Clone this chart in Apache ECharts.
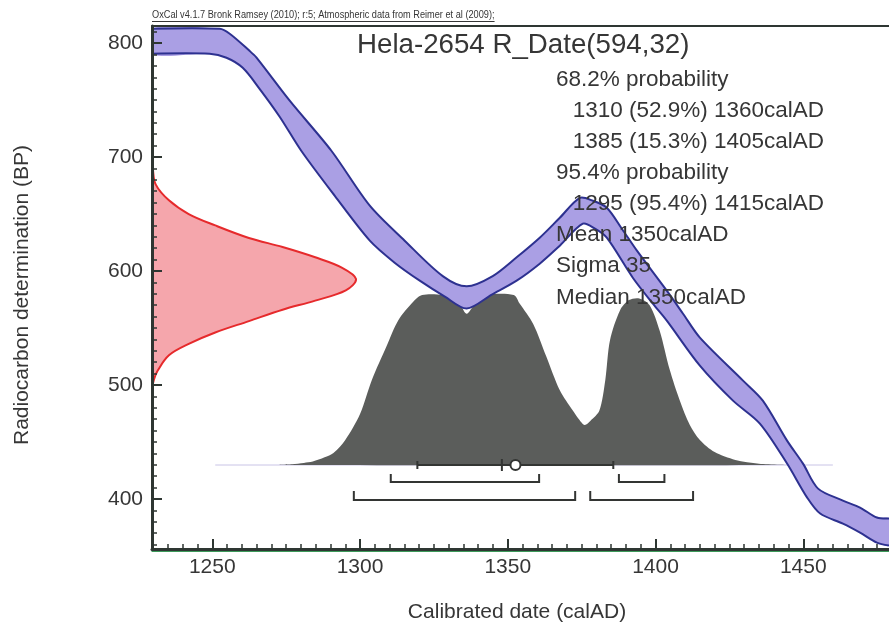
<!DOCTYPE html>
<html><head><meta charset="utf-8">
<script src="https://cdn.jsdelivr.net/npm/echarts@6/dist/echarts.min.js"></script>
<style>html,body{margin:0;padding:0;background:#fff}#c{width:889px;height:627px}</style>
</head><body><div id="c"></div>
<script>
// ---------- data ----------
const xTickLabels = [1250, 1300, 1350, 1400, 1450];
const yTickLabels = [400, 500, 600, 700, 800];

// calibration curve band edges [calAD, BP]
const curveUpper = [[1229,812.5],[1252.5,812.5],[1255.9,808.2],[1262.6,793.2],[1264.9,787.4],[1276.2,749.4],[1290.3,705.5],[1303.3,657.3],[1315.1,626.6],[1328.0,595.5],[1336.1,586.5],[1344.9,595.5],[1353.0,612.0],[1360.8,629.2],[1367.6,646.7],[1374.4,664.2],[1378.8,661.6],[1383.5,655.5],[1388.6,637.1],[1393.7,617.8],[1403.8,582.7],[1409.3,562.5],[1415.0,541.5],[1429.6,503.8],[1436.3,486.2],[1444.5,451.1],[1449.9,430.9],[1455.0,409.0],[1463.4,398.5],[1469.2,392.4],[1474.9,383.6],[1479,382.7]];
const curveLower = [[1229,790.6],[1249.1,790.6],[1254.8,787.1],[1260.3,778.3],[1266.0,759.9],[1272.8,735.4],[1280.1,705.5],[1291.4,666.1],[1303.3,626.6],[1311.7,607.3],[1320.2,591.5],[1328.7,577.5],[1336.1,567.0],[1344.6,579.3],[1353.0,591.5],[1360.8,606.4],[1367.6,622.2],[1375.4,641.5],[1379.5,637.1],[1383.5,629.2],[1392.3,594.1],[1399.1,571.3],[1403.8,556.4],[1415.0,516.9],[1426.2,486.2],[1435.3,466.1],[1444.5,431.0],[1451.3,401.1],[1455.7,387.1],[1463.4,378.3],[1469.2,370.4],[1474.9,361.6],[1479,359.0]];

// radiocarbon date distribution (BP vs relative probability)
const redBP      = [700, 690, 676, 662, 650, 640, 629, 621, 612, 603, 593, 583, 574, 566, 556, 546, 536, 526, 512, 505, 497];
const redDensity = [0, 0.004, 0.018, 0.083, 0.18, 0.31, 0.475, 0.64, 0.80, 0.93, 1.0, 0.95, 0.80, 0.64, 0.475, 0.31, 0.18, 0.083, 0.026, 0.01, 0];

// calibrated distribution (calAD vs relative probability)
const greyYears   = [1272, 1277, 1281, 1284, 1288, 1291, 1295, 1300, 1304, 1309, 1313, 1318, 1321, 1328, 1333, 1336, 1339, 1343, 1352, 1354, 1358.6, 1363, 1367.6, 1372, 1374, 1376, 1378, 1381, 1383, 1384.6, 1388, 1391, 1394.5, 1398, 1401.4, 1404.8, 1408.2, 1411.6, 1415, 1420, 1427, 1435, 1445];
const greyDensity = [0, 0.005, 0.012, 0.02, 0.045, 0.07, 0.147, 0.30, 0.50, 0.70, 0.853, 0.96, 1.0, 1.0, 0.97, 0.89, 0.95, 1.0, 1.0, 0.95, 0.83, 0.64, 0.44, 0.32, 0.27, 0.235, 0.26, 0.32, 0.5, 0.735, 0.91, 0.97, 0.98, 0.94, 0.79, 0.56, 0.38, 0.235, 0.147, 0.076, 0.03, 0.008, 0];

const baselineRange = [1251, 1460];
const range68 = [[1310.4, 1360.6], [1387.6, 1403.0]];
const range95 = [[1297.9, 1372.8], [1377.9, 1412.7]];
const sigmaRange = [1319.4, 1385.7];
const meanMark = 1348;
const medianMark = 1352.6;

const headerText = 'OxCal v4.1.7 Bronk Ramsey (2010); r:5; Atmospheric data from Reimer et al (2009);';
const titleText = 'Hela-2654 R_Date(594,32)';
const infoLines = [
  ['68.2% probability', 0],
  ['1310 (52.9%) 1360calAD', 1],
  ['1385 (15.3%) 1405calAD', 1],
  ['95.4% probability', 0],
  ['1295 (95.4%) 1415calAD', 1],
  ['Mean 1350calAD', 0],
  ['Sigma 35', 0],
  ['Median 1350calAD', 0]
];
const xTitle = 'Calibrated date (calAD)';
const yTitle = 'Radiocarbon determination (BP)';

// ---------- layout / style ----------
const X_MIN = 1229.6, X_MAX = 1479, Y_MIN = 356, Y_MAX = 815;
const GRID = {left: 152, right: 0, top: 26, bottom: 78};
const RED_MAX = 737 / 204;
const G_MIN = -84 / 170, G_MAX = 439 / 170;
const FONT = '"Liberation Sans", Arial, sans-serif';
const axisColor = '#2e3632';
const textColor = '#363636';

const xMinor = [];
for (let v = 1230; v <= 1479; v += 5) if (v % 50 !== 0) xMinor.push(v);
const yMinor = [];
for (let v = 360; v <= 815; v += 10) if (v % 100 !== 0) yMinor.push(v);

function clipOf(params) {
  const c = params.coordSys;
  return {type: 'rect', shape: {x: c.x, y: c.y, width: c.width, height: c.height}};
}

const chart = echarts.init(document.getElementById('c'));

const HEADER_FS = 10, HEADER_SX = 0.92;
const measureCtx = document.createElement('canvas').getContext('2d');
measureCtx.font = HEADER_FS + 'px ' + FONT;
const headerW = measureCtx.measureText(headerText).width * HEADER_SX;

const graphics = [
  {type: 'text', x: 152, y: 15, scaleX: HEADER_SX, z: 100, style: {text: headerText, font: HEADER_FS + 'px ' + FONT, fill: textColor, textVerticalAlign: 'middle'}},
  {type: 'line', z: 100, shape: {x1: 152, y1: 21.5, x2: 152 + headerW, y2: 21.5}, style: {stroke: textColor, lineWidth: 1}},
  {type: 'text', x: 357, y: 45, z: 100, style: {text: titleText, font: '27.7px ' + FONT, fill: textColor, textVerticalAlign: 'middle'}},
  {type: 'text', x: 517, y: 612, z: 100, style: {text: xTitle, font: '21px ' + FONT, fill: textColor, textAlign: 'center', textVerticalAlign: 'middle'}},
  {type: 'text', x: 22, y: 295, rotation: Math.PI / 2, z: 100, style: {text: yTitle, font: '21px ' + FONT, fill: textColor, textAlign: 'center', textVerticalAlign: 'middle'}}
];
infoLines.forEach((l, i) => {
  graphics.push({type: 'text', x: l[1] ? 572.7 : 556, y: 79.3 + i * 31.15, z: 100,
    style: {text: l[0], font: '22.5px ' + FONT, fill: textColor, textVerticalAlign: 'middle'}});
});

const plain = v => String(v);

const option = {
  animation: false,
  grid: GRID,
  xAxis: [
    {type: 'value', min: X_MIN, max: X_MAX, position: 'bottom', z: 10,
      axisLine: {show: true, onZero: false, lineStyle: {color: axisColor, width: 3}},
      axisTick: {show: true, inside: true, length: 10, customValues: xTickLabels, lineStyle: {color: axisColor, width: 2}},
      axisLabel: {show: true, customValues: xTickLabels, formatter: plain, margin: 8, fontSize: 21, color: textColor, fontFamily: FONT},
      splitLine: {show: false}},
    {type: 'value', min: X_MIN, max: X_MAX, position: 'bottom', z: 10,
      axisLine: {show: false, onZero: false},
      axisTick: {show: true, inside: true, length: 5, customValues: xMinor, lineStyle: {color: axisColor, width: 1.5}},
      axisLabel: {show: false}, splitLine: {show: false}},
    {type: 'value', min: 0, max: RED_MAX, show: false, axisLine: {onZero: false}},
    {type: 'value', min: X_MIN, max: X_MAX, position: 'top', z: 10,
      axisLine: {show: true, onZero: false, lineStyle: {color: axisColor, width: 2}},
      axisTick: {show: false}, axisLabel: {show: false}, splitLine: {show: false}},
    {type: 'value', min: X_MIN, max: X_MAX, position: 'bottom', offset: 2, z: 9,
      axisLine: {show: true, onZero: false, lineStyle: {color: '#3c9a5a', width: 1.2}},
      axisTick: {show: false}, axisLabel: {show: false}, splitLine: {show: false}}
  ],
  yAxis: [
    {type: 'value', min: Y_MIN, max: Y_MAX, position: 'left', z: 10,
      axisLine: {show: true, onZero: false, lineStyle: {color: axisColor, width: 3}},
      axisTick: {show: true, inside: true, length: 10, customValues: yTickLabels, lineStyle: {color: axisColor, width: 2}},
      axisLabel: {show: true, customValues: yTickLabels, formatter: plain, margin: 9, fontSize: 21, color: textColor, fontFamily: FONT},
      splitLine: {show: false}},
    {type: 'value', min: G_MIN, max: G_MAX, show: false, position: 'right', axisLine: {onZero: false}},
    {type: 'value', min: Y_MIN, max: Y_MAX, position: 'left', z: 10,
      axisLine: {show: false, onZero: false},
      axisTick: {show: true, inside: true, length: 5, customValues: yMinor, lineStyle: {color: axisColor, width: 1.5}},
      axisLabel: {show: false}, splitLine: {show: false}}
  ],
  graphic: graphics,
  series: [
    { // baseline
      type: 'custom', xAxisIndex: 0, yAxisIndex: 1, z: 1, data: [[1300, 0]],
      renderItem: (params, api) => {
        const a = api.coord([baselineRange[0], 0]), b = api.coord([baselineRange[1], 0]);
        return {type: 'line', shape: {x1: a[0], y1: a[1], x2: b[0], y2: b[1]}, style: {stroke: '#c9c4e6', lineWidth: 1}};
      }
    },
    { // calibrated distribution
      type: 'custom', xAxisIndex: 0, yAxisIndex: 1, z: 2, data: [[1300, 0]],
      renderItem: (params, api) => {
        const pts = greyYears.map((y, i) => api.coord([y, greyDensity[i]]));
        return {type: 'polygon', shape: {points: pts, smooth: 0.3}, style: {fill: '#5b5d5b', stroke: null}};
      }
    },
    { // radiocarbon date
      type: 'custom', xAxisIndex: 2, yAxisIndex: 0, z: 2, data: [[0.5, 600]],
      renderItem: (params, api) => {
        const pts = redBP.map((bp, i) => api.coord([redDensity[i], bp]));
        return {type: 'group', clipPath: clipOf(params), children: [
          {type: 'polygon', shape: {points: pts, smooth: 0.35}, style: {fill: '#f5a6ac', stroke: null}},
          {type: 'polyline', shape: {points: pts, smooth: 0.35}, style: {fill: null, stroke: '#e62a2c', lineWidth: 2}}
        ]};
      }
    },
    { // calibration curve band
      type: 'custom', xAxisIndex: 0, yAxisIndex: 0, z: 3, data: [[1300, 600]],
      renderItem: (params, api) => {
        const up = curveUpper.map(p => api.coord(p));
        const lo = curveLower.map(p => api.coord(p));
        return {type: 'group', clipPath: clipOf(params), children: [
          {type: 'polygon', shape: {points: up.concat(lo.slice().reverse()), smooth: 0.3}, style: {fill: '#aa9fe4', stroke: null}},
          {type: 'polyline', shape: {points: up, smooth: 0.3}, style: {fill: null, stroke: '#2d3190', lineWidth: 2}},
          {type: 'polyline', shape: {points: lo, smooth: 0.3}, style: {fill: null, stroke: '#2d3190', lineWidth: 2}}
        ]};
      }
    },
    { // ranges, sigma bar, mean and median markers
      type: 'custom', xAxisIndex: 0, yAxisIndex: 1, z: 4, data: [[1300, 0]],
      renderItem: (params, api) => {
        const ch = [];
        const st = {stroke: '#333533', lineWidth: 2, fill: null};
        const bracket = (r, dy, rise) => {
          const a = api.coord([r[0], 0]), b = api.coord([r[1], 0]);
          const y = a[1] + dy;
          ch.push({type: 'polyline', shape: {points: [[a[0], y - rise], [a[0], y], [b[0], y], [b[0], y - rise]]}, style: st});
        };
        range68.forEach(r => bracket(r, 17, 8));
        range95.forEach(r => bracket(r, 35, 9));
        const s0 = api.coord([sigmaRange[0], 0]), s1 = api.coord([sigmaRange[1], 0]);
        ch.push({type: 'line', shape: {x1: s0[0], y1: s0[1], x2: s1[0], y2: s1[1]}, style: st});
        ch.push({type: 'line', shape: {x1: s0[0], y1: s0[1] - 4, x2: s0[0], y2: s0[1] + 4}, style: st});
        ch.push({type: 'line', shape: {x1: s1[0], y1: s1[1] - 4, x2: s1[0], y2: s1[1] + 4}, style: st});
        const m = api.coord([meanMark, 0]);
        ch.push({type: 'line', shape: {x1: m[0], y1: m[1] - 6, x2: m[0], y2: m[1] + 6}, style: st});
        const md = api.coord([medianMark, 0]);
        ch.push({type: 'circle', shape: {cx: md[0], cy: md[1], r: 5}, style: {fill: '#fff', stroke: '#333533', lineWidth: 2}});
        return {type: 'group', children: ch};
      }
    }
  ]
};
chart.setOption(option);
</script>
</body></html>
